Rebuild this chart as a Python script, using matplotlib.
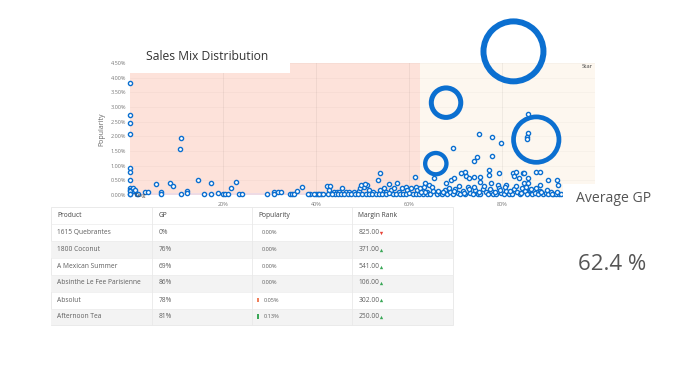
import numpy as np
import matplotlib
matplotlib.use("Agg")
import matplotlib.pyplot as plt
from matplotlib.patches import Rectangle

plt.rcParams['font.family'] = ['Open Sans', 'DejaVu Sans']

# ---------------- data ----------------
# small bubbles: (GP %, Popularity %)
pts_left = [(0, 3.81), (0, 2.72), (0, 2.44), (0, 2.07), (0, 0.91), (0, 0.80), (0, 0.51),
            (0, 0.25), (0, 0.18), (0, 0.12), (0, 0.05), (0, 0.02), (0.6, 0.23), (0.8, 0.15),
            (1.0, 0.17), (1.5, 0.05), (1.7, 0.02), (3.1, 0.09), (3.8, 0.11), (5.6, 0.36),
            (6.5, 0.09), (6.5, 0.03), (8.6, 0.40), (9.1, 0.32), (10.8, 1.96), (10.7, 1.57),
            (10.8, 0.03), (12.3, 0.12), (12.1, 0.06), (14.6, 0.51), (15.9, 0.02), (17.3, 0.40),
            (17.3, 0.02), (18.8, 0.07), (19.9, 0.03), (20.3, 0.03), (21.0, 0.03), (21.6, 0.23),
            (22.7, 0.43), (23.4, 0.03), (24.0, 0.03), (29.4, 0.03), (30.8, 0.09), (31.0, 0.03),
            (31.7, 0.09), (32.4, 0.09), (34.4, 0.04), (34.8, 0.03), (35.2, 0.03), (35.8, 0.14)]

pts_mid = [(36.9, 0.28), (38.7, 0.03), (40.0, 0.03), (40.4, 0.03), (41.0, 0.02), (42.2, 0.32),
           (43.0, 0.32), (42.7, 0.17), (43.7, 0.09), (44.4, 0.09), (44.0, 0.05), (44.8, 0.11),
           (45.5, 0.23), (46.3, 0.09), (47.0, 0.09), (48.0, 0.11), (49.1, 0.14), (49.5, 0.23),
           (50.2, 0.28), (51.0, 0.34), (51.3, 0.17), (49.6, 0.34), (50.4, 0.36), (52.2, 0.09),
           (53.3, 0.51), (53.6, 0.74), (53.8, 0.17), (54.5, 0.23), (54.9, 0.11), (55.6, 0.38),
           (56.0, 0.17), (56.7, 0.23), (57.4, 0.40), (57.8, 0.11), (58.5, 0.23), (59.2, 0.28),
           (59.6, 0.17), (60.3, 0.23), (61.4, 0.28), (61.2, 0.61), (61.7, 0.17), (62.4, 0.23)]

pts_right = [(85.5, 2.76), (85.5, 2.11), (85.4, 1.99), (85.3, 1.92), (75.0, 2.07), (77.7, 1.99),
             (79.8, 1.76), (69.4, 1.59), (74.5, 1.31), (73.9, 1.16), (77.7, 1.34), (77.2, 0.85),
             (77.2, 0.68), (79.3, 0.76), (72.0, 0.78), (71.1, 0.74), (87.2, 0.80), (88.2, 0.80),
             (89.8, 0.51), (91.8, 0.51), (91.9, 0.34), (88.0, 0.34), (82.4, 0.74), (82.6, 0.65),
             (82.9, 0.80), (84.4, 0.76), (84.7, 0.74), (83.6, 0.57), (84.7, 0.40), (85.5, 0.57),
             (85.5, 0.40), (63.3, 0.40), (64.2, 0.34), (65.3, 0.57), (67.8, 0.42), (68.9, 0.51),
             (69.6, 0.57), (72.1, 0.65), (72.9, 0.57), (73.9, 0.60), (75.2, 0.62), (75.2, 0.45),
             (77.5, 0.40), (79.0, 0.34), (80.8, 0.34), (63.2, 0.28), (63.9, 0.11)]

pts_base = [(63.0, 0.02), (63.8, 0.05), (64.5, 0.02), (65.2, 0.12), (65.9, 0.03), (66.5, 0.07),
            (67.1, 0.02), (67.6, 0.18), (68.2, 0.04), (68.8, 0.10), (69.3, 0.02), (69.9, 0.22),
            (70.4, 0.06), (70.9, 0.03), (71.5, 0.14), (72.0, 0.02), (72.6, 0.26), (73.1, 0.08),
            (73.6, 0.03), (74.2, 0.16), (74.8, 0.05), (75.3, 0.02), (75.9, 0.20), (76.4, 0.09),
            (77.0, 0.03), (77.6, 0.13), (78.1, 0.05), (78.7, 0.02), (79.2, 0.24), (79.8, 0.07),
            (80.3, 0.03), (80.9, 0.15), (81.5, 0.05), (82.0, 0.02), (82.6, 0.19), (83.1, 0.09),
            (83.7, 0.03), (84.2, 0.24), (84.8, 0.12), (85.3, 0.04), (85.9, 0.17), (86.4, 0.02),
            (87.0, 0.08), (87.6, 0.03), (88.1, 0.14), (88.7, 0.02), (89.3, 0.06), (89.8, 0.02),
            (90.4, 0.11), (91.0, 0.03), (91.5, 0.02), (92.1, 0.05), (92.6, 0.02),
            (63.4, 0.10), (64.9, 0.28), (66.2, 0.15), (67.3, 0.09), (68.5, 0.25), (69.6, 0.13),
            (70.7, 0.30), (71.8, 0.08), (72.9, 0.19), (74.0, 0.28), (75.0, 0.11), (76.1, 0.30),
            (77.3, 0.22), (78.4, 0.10), (79.5, 0.16), (80.6, 0.27), (81.7, 0.12), (82.9, 0.30),
            (84.0, 0.07), (85.1, 0.28), (86.2, 0.20), (87.3, 0.25), (88.4, 0.09), (89.6, 0.18),
            (90.7, 0.04), (91.8, 0.09),
            (38.2, 0.02), (39.4, 0.04), (40.6, 0.02), (41.5, 0.03), (42.5, 0.02), (43.4, 0.03),
            (44.6, 0.02), (45.3, 0.04), (46.0, 0.02), (46.8, 0.03), (47.5, 0.02), (48.4, 0.04),
            (49.0, 0.02), (49.8, 0.05), (50.6, 0.02), (51.4, 0.03), (52.0, 0.02), (52.8, 0.05),
            (53.5, 0.02), (54.2, 0.04), (55.0, 0.02), (55.7, 0.06), (56.4, 0.02), (57.1, 0.04),
            (57.9, 0.02), (58.6, 0.05), (59.3, 0.02), (60.0, 0.07), (60.7, 0.02), (61.4, 0.04),
            (62.1, 0.02), (62.6, 0.09)]

# large bubbles
big_gp = [82.4, 67.9, 87.3, 65.7]
big_pop = [4.90, 3.15, 1.89, 1.07]
big_volume = [3730, 900, 2140, 470]

avg_gp = 62.4
avg_pop = 0.07

x_ticks = [20, 40, 60, 80]
y_ticks = [0, 0.5, 1.0, 1.5, 2.0, 2.5, 3.0, 3.5, 4.0, 4.5]

# table
tbl_headers = ["Product", "GP", "Popularity", "Margin Rank"]
tbl_product = ["1615 Quebrantes", "1800 Coconut", "A Mexican Summer",
               "Absinthe Le Fee Parisienne", "Absolut", "Afternoon Tea"]
tbl_gp = [0, 76, 69, 86, 78, 81]
tbl_pop = [0.00, 0.00, 0.00, 0.00, 0.05, 0.13]
tbl_rank = [825.00, 371.00, 541.00, 106.00, 302.00, 250.00]

card_title = "Average GP"

# ---------------- figure ----------------
W, H = 700, 382
fig = plt.figure(figsize=(7, 3.82), dpi=100)
fig.patch.set_facecolor('white')

def fx(px):
    return px / W

def fy(py):
    return 1 - py / H

x0_px, x1_px = 130.3, 595.3
y0_px, y1_px = 195.0, 63.1
ax = fig.add_axes([fx(x0_px), fy(y0_px), (x1_px - x0_px) / W, (y0_px - y1_px) / H])
ax.set_xlim(0, 100)
ax.set_ylim(0, 4.5)
ax.set_facecolor('white')
for s in ax.spines.values():
    s.set_visible(False)

# quadrant backgrounds
ax.axvspan(0, avg_gp, ymin=0, ymax=1, color='#fde2da', zorder=0, lw=0)
ax.axvspan(avg_gp, 100, color='#fdf7ef', zorder=0, lw=0)
ax.fill_between([0, avg_gp], 0, avg_pop, color='#eedbe5', zorder=0.5, lw=0)
ax.fill_between([avg_gp, 100], 0, avg_pop, color='#f6f0f3', zorder=0.5, lw=0)

ax.set_xticks(x_ticks)
ax.set_xticklabels([f"{v}%" for v in x_ticks])
ax.set_yticks(y_ticks)
ax.set_yticklabels([f"{v:.2f}%" for v in y_ticks])
ax.tick_params(length=0, labelsize=4, colors='#777777', pad=3)
ax.tick_params(axis='x', pad=5)
for v in x_ticks:
    ax.axvline(v, color='#000000', alpha=0.06, lw=0.6, zorder=1)
for v in y_ticks:
    ax.axhline(v, color='#000000', alpha=0.03, lw=0.5, zorder=1)
ax.set_ylabel("Popularity", fontsize=5, color='#666666', labelpad=4)

blue = '#0b6fd0'
ax.scatter(big_gp, big_pop, s=np.array(big_volume) * 0.5, facecolors='none',
           edgecolors=blue, linewidths=[4.3, 3.6, 3.4, 3.1], zorder=3, clip_on=False)
small = np.array(pts_left + pts_mid + pts_right + pts_base)
ax.scatter(small[:, 0], small[:, 1], s=9, facecolors='white', edgecolors=blue,
           linewidths=1.0, zorder=4, clip_on=False)

ax.text(0.8, 0.0, "Dog", fontsize=4.3, color='#444444', ha='left', va='center', zorder=5)
ax.text(99.5, 4.47, "Star", fontsize=4.3, color='#444444', ha='right', va='top', zorder=5)

# ---------------- overlay (pixel coords) ----------------
ov = fig.add_axes([0, 0, 1, 1])
ov.set_xlim(0, W)
ov.set_ylim(H, 0)
ov.axis('off')
ov.set_zorder(10)
ov.patch.set_alpha(0)

# title box
ov.add_patch(Rectangle((128, 38), 162, 35, facecolor='white', edgecolor='none'))
ov.text(146, 57, "Sales Mix Distribution", fontsize=8.7, color='#333333', ha='left', va='center')

# card
ov.add_patch(Rectangle((563, 183.5), 137, 200, facecolor='white', edgecolor='none'))
ov.text(576, 198, card_title, fontsize=10.1, color='#555555', ha='left', va='center')
ov.text(578, 265, f"{avg_gp:.1f} %", fontsize=16, color='#555555', ha='left', va='center')

# table
col_x = [50.5, 152, 252.3, 352.3, 453.3]
row_y = [206.7, 224, 241, 258, 274.5, 291.5, 308.5, 325]
text_pad = [6.5, 6.3, 9.4, 6]
ov.add_patch(Rectangle((col_x[0], row_y[0]), col_x[-1] - col_x[0], row_y[-1] - row_y[0],
                       facecolor='white', edgecolor='#e6e6e6', lw=0.6))
for i in range(len(tbl_product)):
    if i % 2 == 1:
        ov.add_patch(Rectangle((col_x[0], row_y[i + 1]), col_x[-1] - col_x[0],
                               row_y[i + 2] - row_y[i + 1], facecolor='#f3f3f3', edgecolor='none'))
for r in row_y[1:-1]:
    ov.plot([col_x[0], col_x[-1]], [r, r], color='#ececec', lw=0.5)
for c in col_x[1:-1]:
    ov.plot([c, c], [row_y[0], row_y[-1]], color='#e9e9e9', lw=0.6)

def cy(i):
    return (row_y[i] + row_y[i + 1]) / 2

for j, h in enumerate(tbl_headers):
    ov.text(col_x[j] + text_pad[j] - (3 if j == 2 else 0), cy(0), h, fontsize=4.8,
            color='#444444', ha='left', va='center')

tc = '#5f5f5f'
for i in range(len(tbl_product)):
    y = cy(i + 1)
    ov.text(col_x[0] + text_pad[0], y, tbl_product[i], fontsize=4.8, color=tc, ha='left', va='center')
    ov.text(col_x[1] + text_pad[1], y, f"{tbl_gp[i]}%", fontsize=4.8, color=tc, ha='left', va='center')
    ov.text(col_x[2] + text_pad[2] + (2 if tbl_pop[i] > 0 else 0), y, f"{tbl_pop[i]:.2f}%",
            fontsize=4.1, color=tc, ha='left', va='center')
    if tbl_pop[i] > 0:
        col = '#f0805c' if tbl_pop[i] < 0.1 else '#3aa757'
        ov.add_patch(Rectangle((col_x[2] + 4.3, y - 2.3), 2.0, 4.6, facecolor=col, edgecolor='none'))
    ov.text(col_x[3] + text_pad[3], y, f"{tbl_rank[i]:.2f}", fontsize=4.8, color=tc,
            ha='left', va='center')
    up = tbl_rank[i] < 600
    ov.plot(col_x[3] + 28.5, y + 0.3, marker='^' if up else 'v', ms=2.4,
            color='#3aa757' if up else '#e8463a', mec='none')

fig.savefig('out.png', dpi=100, facecolor='white')
